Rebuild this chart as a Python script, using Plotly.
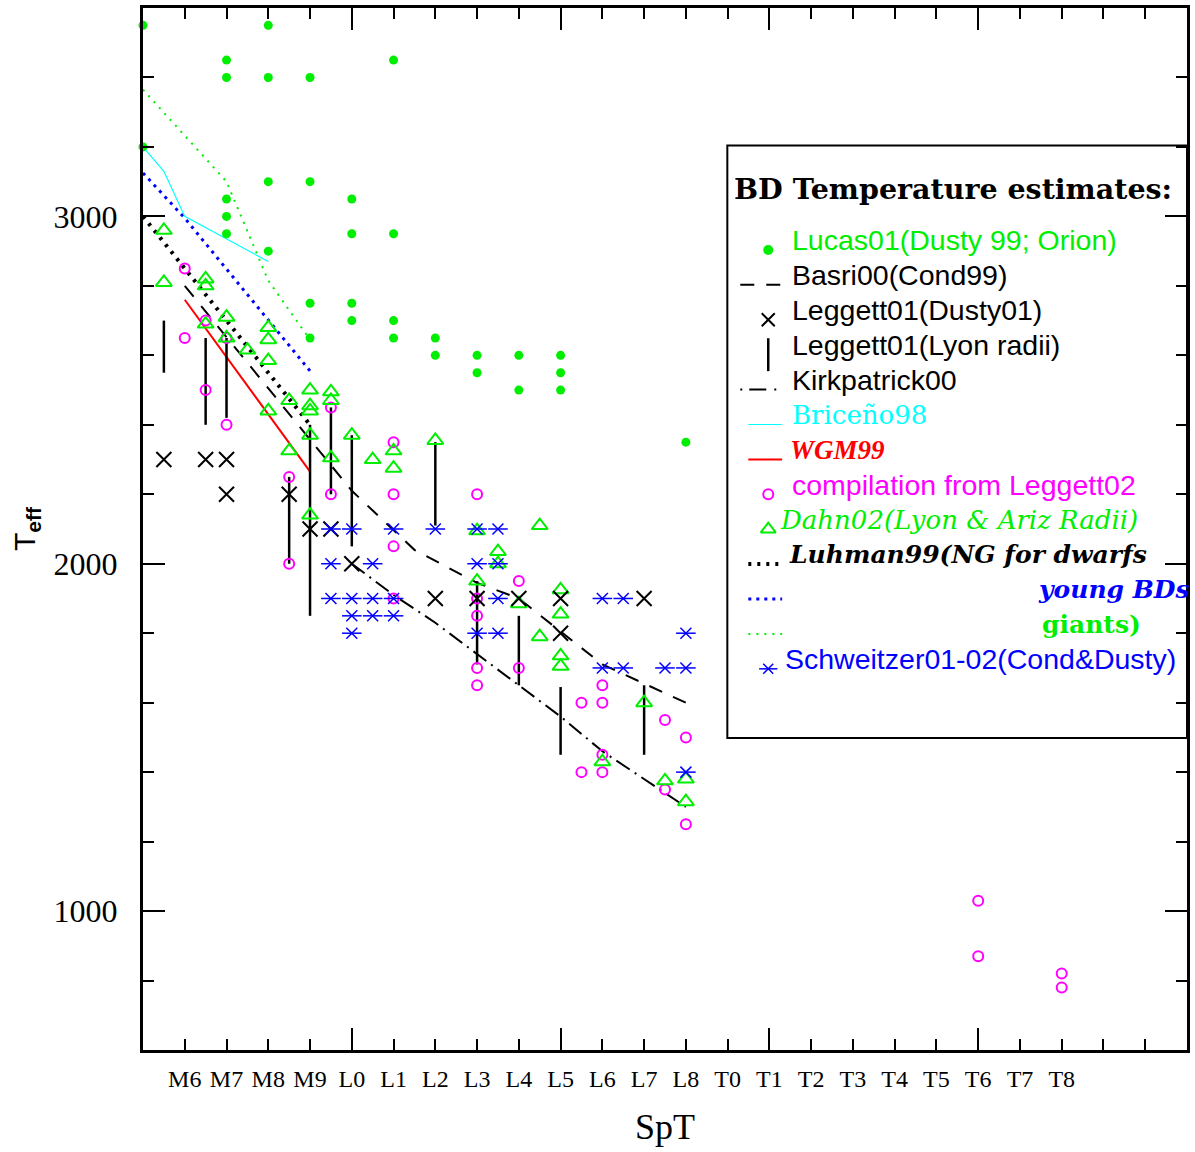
import plotly.graph_objects as go

# ---------------------------------------------------------------------------
# Axis labels
# ---------------------------------------------------------------------------
spt_ticks = ["M6", "M7", "M8", "M9", "L0", "L1", "L2", "L3", "L4", "L5", "L6",
             "L7", "L8", "T0", "T1", "T2", "T3", "T4", "T5", "T6", "T7", "T8"]
teff_major = [1000, 2000, 3000]

# ---------------------------------------------------------------------------
# Temperature estimates (spectral type, Teff in K)
# ---------------------------------------------------------------------------
lucas_spt = ["M5", "M5", "M7", "M7", "M7", "M7", "M7", "M8", "M8", "M8", "M8",
             "M9", "M9", "M9", "M9", "L0", "L0", "L0", "L0", "L1", "L1", "L1",
             "L1", "L2", "L2", "L3", "L3", "L4", "L4", "L5", "L5", "L5", "L8"]
lucas_teff = [3550, 3200, 3450, 3400, 3050, 3000, 2950, 3550, 3400, 3100, 2900,
              3400, 3100, 2750, 2650, 3050, 2950, 2750, 2700, 3450, 2950, 2700,
              2650, 2650, 2600, 2600, 2550, 2600, 2500, 2600, 2550, 2500, 2350]

basri_spt = ["M6", "L0", "L1.5", "L3", "L4", "L6", "L8"]
basri_teff = [2800, 2210, 2040, 1945, 1900, 1710, 1600]

leg_dusty_spt = ["M5.5", "M6.5", "M7", "M7", "M8.5", "M9", "M9.5", "L0", "L2",
                 "L3", "L4", "L5", "L5", "L7"]
leg_dusty_teff = [2300, 2300, 2300, 2200, 2200, 2100, 2100, 2000, 1900,
                  1900, 1900, 1900, 1800, 1900]

leg_lyon_spt = ["M5.5", "M6.5", "M7", "M8.5", "M9", "M9.5", "L0", "L2", "L3",
                "L4", "L5", "L7"]
leg_lyon_lo = [2550, 2400, 2420, 2000, 1850, 2200, 2050, 2110, 1710, 1650, 1450, 1450]
leg_lyon_hi = [2700, 2650, 2650, 2250, 2400, 2450, 2370, 2350, 1950, 1850, 1645, 1650]

kirk_spt = ["L0", "L1", "L2", "L3", "L4", "L5", "L6", "L7", "L8"]
kirk_teff = [2000, 1910, 1830, 1740, 1650, 1560, 1460, 1380, 1300]

briceno_spt = ["M5", "M5.5", "M6", "M8"]
briceno_teff = [3200, 3130, 3000, 2870]

wgm_spt = ["M6", "M9"]
wgm_teff = [2760, 2265]

comp_spt = ["M6", "M6", "M6.5", "M6.5", "M7", "M7", "M8.5", "M8.5", "M9.5",
            "M9.5", "L1", "L1", "L1", "L1", "L3", "L3", "L3", "L3", "L3", "L4",
            "L4", "L5.5", "L5.5", "L6", "L6", "L6", "L6", "L7.5", "L7.5", "L8",
            "L8", "T6", "T6", "T8", "T8"]
comp_teff = [2850, 2650, 2700, 2500, 2650, 2400, 2250, 2000, 2450,
             2200, 2350, 2200, 2050, 1900, 2200, 1900, 1850, 1700, 1650, 1950,
             1700, 1600, 1400, 1650, 1600, 1450, 1400, 1550, 1350, 1500,
             1250, 1030, 870, 820, 780]

dahn_spt = ["M5.5", "M5.5", "M6.5", "M6.5", "M6.5", "M7", "M7", "M7.5", "M8",
            "M8", "M8", "M8", "M8.5", "M8.5", "M9", "M9", "M9", "M9", "M9",
            "M9.5", "M9.5", "M9.5", "L0", "L0.5", "L1", "L1", "L2", "L3", "L3",
            "L3.5", "L3.5", "L4", "L4.5", "L4.5", "L5", "L5", "L5", "L5", "L6",
            "L7", "L7.5", "L8", "L8"]
dahn_teff = [2960, 2810, 2820, 2800, 2690, 2710, 2650, 2615, 2680,
             2645, 2585, 2440, 2470, 2325, 2500, 2455, 2440, 2370, 2140,
             2495, 2470, 2305, 2370, 2300, 2325, 2275, 2355, 2095, 1950,
             2035, 2000, 1885, 2110, 1790, 1925, 1855, 1735, 1705, 1430,
             1600, 1375, 1380, 1315]

luhman_dwarf_spt = ["M5", "M9"]
luhman_dwarf_teff = [3000, 2400]
luhman_young_spt = ["M5", "M6", "M9"]
luhman_young_teff = [3125, 2995, 2555]
luhman_giant_spt = ["M5", "M7", "M8", "M9"]
luhman_giant_teff = [3365, 3100, 2815, 2645]

sch_spt = ["M9.5", "M9.5", "M9.5", "L0", "L0", "L0", "L0", "L0.5", "L0.5",
           "L0.5", "L1", "L1", "L1", "L2", "L3", "L3", "L3", "L3.5", "L3.5",
           "L3.5", "L3.5", "L6", "L6", "L6.5", "L6.5", "L7.5", "L8", "L8", "L8"]
sch_teff = [2100, 2000, 1900, 2100, 1900, 1850, 1800, 2000, 1900,
            1850, 2100, 1900, 1850, 2100, 2100, 2000, 1800, 2100, 2000,
            1900, 1800, 1900, 1700, 1900, 1700, 1700, 1800, 1700, 1400]


def spt_num(s):
    """Spectral type -> position on the SpT axis (M5 = 0, L0 = 5, T0 = 14)."""
    return float(s[1:]) + {"M": -5, "L": 5, "T": 14}[s[0]]


def xs(spts):
    return [spt_num(s) for s in spts]


GREEN = "#00ee00"
BLUE = "#0000ff"
MAGENTA = "#ff00ff"
CYAN = "#00ffff"
RED = "#ff0000"
BLACK = "#000000"

BASRI_DASH = "14px,12px"
KIRK_DASH = "16px,6px,2px,6px"
DOT_BLACK = "3px,6px"
DOT_BLUE = "3px,5px"
DOT_GREEN = "2px,6px"

fig = go.Figure()


def curve(spts, teff, color, width, dash="solid"):
    fig.add_trace(go.Scatter(x=xs(spts), y=teff, mode="lines",
                             line=dict(color=color, width=width, dash=dash),
                             hoverinfo="skip"))


def points(spts, teff, symbol, size, color, lw=2.0, clip=True, filled=False):
    fig.add_trace(go.Scatter(
        x=xs(spts), y=teff, mode="markers", cliponaxis=clip, hoverinfo="skip",
        marker=dict(symbol=symbol, size=size, color=color,
                    line=dict(color=color, width=0 if filled else lw))))


# model / calibration curves
curve(luhman_giant_spt, luhman_giant_teff, GREEN, 2, DOT_GREEN)
curve(luhman_young_spt, luhman_young_teff, BLUE, 3, DOT_BLUE)
curve(luhman_dwarf_spt, luhman_dwarf_teff, BLACK, 4, DOT_BLACK)
curve(briceno_spt, briceno_teff, CYAN, 1.2)
curve(wgm_spt, wgm_teff, RED, 2)
curve(basri_spt, basri_teff, BLACK, 2, BASRI_DASH)
curve(kirk_spt, kirk_teff, BLACK, 2, KIRK_DASH)

# Leggett01 (Lyon radii) temperature ranges as vertical bars
bar_x, bar_y = [], []
for s, lo, hi in zip(leg_lyon_spt, leg_lyon_lo, leg_lyon_hi):
    v = spt_num(s)
    bar_x += [v, v, None]
    bar_y += [lo, hi, None]
fig.add_trace(go.Scatter(x=bar_x, y=bar_y, mode="lines",
                         line=dict(color=BLACK, width=2.5), hoverinfo="skip"))

# individual estimates
points(lucas_spt, lucas_teff, "circle", 9, GREEN, clip=False, filled=True)
points(comp_spt, comp_teff, "circle-open", 10, MAGENTA, 2)
points(dahn_spt, dahn_teff, "triangle-up-open", 14, GREEN, 2)
points(leg_dusty_spt, leg_dusty_teff, "x-thin-open", 15, BLACK, 2)
points(sch_spt, sch_teff, "line-ew-open", 14, BLUE, 1.5)
points(sch_spt, sch_teff, "x-thin-open", 11, BLUE, 1.5)

# invisible trace that carries the labelled SpT axis
fig.add_trace(go.Scatter(x=[None], y=[None], xaxis="x2", yaxis="y",
                         showlegend=False, hoverinfo="skip"))

# ---------------------------------------------------------------------------
# Hand-built legend panel (paper coordinates)
# ---------------------------------------------------------------------------
LEG_X0, LEG_X1, LEG_Y0, LEG_Y1 = 0.5597, 1.0, 0.2995, 0.868
ROW0, ROW_STEP = 0.777, 0.0335
SAMPLE_DY = 0.0092
MARK_X = 0.5989
TEXT_X = 0.6199


def row(i):
    return ROW0 - ROW_STEP * i


shapes = [dict(type="rect", xref="paper", yref="paper", x0=LEG_X0, x1=LEG_X1,
               y0=LEG_Y0, y1=LEG_Y1, line=dict(color=BLACK, width=2))]


def sample_line(i, x0, x1, color, width, dash="solid"):
    y = row(i) - SAMPLE_DY
    shapes.append(dict(type="line", xref="paper", yref="paper", x0=x0, x1=x1,
                       y0=y, y1=y, line=dict(color=color, width=width, dash=dash)))


sample_line(1, 0.5721, 0.6122, BLACK, 2, BASRI_DASH)
sample_line(4, 0.5721, 0.6074, BLACK, 2, "2px,7px,17px,8px,2px,20px")
sample_line(5, 0.5798, 0.6122, CYAN, 1.2)
sample_line(6, 0.5798, 0.6122, RED, 2)
sample_line(9, 0.5798, 0.6122, BLACK, 4, DOT_BLACK)
sample_line(10, 0.5798, 0.6122, BLUE, 3, DOT_BLUE)
sample_line(11, 0.5798, 0.6122, GREEN, 2, DOT_GREEN)
yb = row(3) - SAMPLE_DY
shapes.append(dict(type="line", xref="paper", yref="paper", x0=MARK_X, x1=MARK_X,
                   y0=yb - 0.0158, y1=yb + 0.0158, line=dict(color=BLACK, width=2.5)))


def legend_marker(i, symbol, size, color, lw=2.0, filled=False):
    fig.add_trace(go.Scatter(
        x=[MARK_X], y=[row(i) - SAMPLE_DY], xaxis="x3", yaxis="y3",
        mode="markers", cliponaxis=False, hoverinfo="skip",
        marker=dict(symbol=symbol, size=size, color=color,
                    line=dict(color=color, width=0 if filled else lw))))


legend_marker(0, "circle", 10, GREEN, filled=True)
legend_marker(2, "x-thin-open", 13, BLACK, 2)
legend_marker(7, "circle-open", 10, MAGENTA, 2)
legend_marker(8, "triangle-up-open", 13, GREEN, 2)
legend_marker(12, "line-ew-open", 13, BLUE, 1.5)
legend_marker(12, "x-thin-open", 10, BLUE, 1.5)

SANS = "Liberation Sans"
SERIF = "DejaVu Serif"

annotations = [dict(text="BD Temperature estimates:", x=0.5645, y=0.8262,
                    font=dict(family=SERIF, size=28.5, color=BLACK, weight="bold"))]

legend_texts = [
    (0, "Lucas01(Dusty 99; Orion)", TEXT_X, SANS, 28.5, GREEN, "normal", "normal"),
    (1, "Basri00(Cond99)", TEXT_X, SANS, 28.5, BLACK, "normal", "normal"),
    (2, "Leggett01(Dusty01)", TEXT_X, SANS, 28.5, BLACK, "normal", "normal"),
    (3, "Leggett01(Lyon radii)", TEXT_X, SANS, 28.5, BLACK, "normal", "normal"),
    (4, "Kirkpatrick00", TEXT_X, SANS, 28.5, BLACK, "normal", "normal"),
    (5, "Briceño98", TEXT_X, SERIF, 26, CYAN, "normal", "normal"),
    (6, "WGM99", 0.6180, "Liberation Serif", 27, RED, "bold", "italic"),
    (7, "compilation from Leggett02", TEXT_X, SANS, 28.5, MAGENTA, "normal", "normal"),
    (8, "Dahn02(Lyon &amp; Ariz Radii)", 0.6084, SERIF, 26, GREEN, "normal", "italic"),
    (9, "Luhman99(NG for dwarfs", 0.6170, SERIF, 25, BLACK, "bold", "italic"),
    (10, "young BDs", 0.8558, SERIF, 25, BLUE, "bold", "italic"),
    (11, "giants)", 0.8596, SERIF, 25, GREEN, "bold", "normal"),
    (12, "Schweitzer01-02(Cond&amp;Dusty)", 0.6132, SANS, 28.5, BLUE, "normal", "normal"),
]
for i, txt, x, fam, size, color, weight, style in legend_texts:
    annotations.append(dict(text=txt, x=x, y=row(i),
                            font=dict(family=fam, size=size, color=color,
                                      weight=weight, style=style)))

for a in annotations:
    a.update(xref="paper", yref="paper", xanchor="left", yanchor="middle",
             showarrow=False)

# ---------------------------------------------------------------------------
# Axes and layout
# ---------------------------------------------------------------------------
axis_common = dict(showgrid=False, zeroline=False, showline=True, linecolor=BLACK,
                   linewidth=3, mirror="ticks", ticks="inside", tickcolor=BLACK,
                   tickwidth=2, ticklen=22)

fig.update_layout(
    width=1195, height=1152,
    margin=dict(l=143, r=5, t=5, b=102),
    plot_bgcolor="white", paper_bgcolor="white",
    showlegend=False,
    xaxis=dict(range=[0, 25], tickmode="array", tickvals=[0, 5, 10, 15, 20, 25],
               showticklabels=False,
               minor=dict(tickmode="array", tickvals=list(range(1, 25)),
                          ticks="inside", ticklen=11, tickwidth=2,
                          tickcolor=BLACK, showgrid=False),
               **axis_common),
    xaxis2=dict(overlaying="x", anchor="y", side="bottom", range=[0, 25],
                tickmode="array", tickvals=list(range(1, len(spt_ticks) + 1)),
                ticktext=spt_ticks, ticks="", showline=False, showgrid=False,
                zeroline=False, ticklabelstandoff=12,
                tickfont=dict(family="Liberation Serif", size=24, color=BLACK),
                title=dict(text="SpT", standoff=22,
                           font=dict(family="Liberation Serif", size=36, color=BLACK))),
    yaxis=dict(range=[600, 3600], tickmode="array", tickvals=teff_major,
               ticktext=[str(v) for v in teff_major], ticklabelstandoff=16,
               tickfont=dict(family="Liberation Serif", size=32, color=BLACK),
               minor=dict(dtick=200, tick0=0, ticks="inside", ticklen=11,
                          tickwidth=2, tickcolor=BLACK, showgrid=False),
               title=dict(text="T<sub><b>eff</b></sub>", standoff=10,
                          font=dict(family="Liberation Sans", size=30, color=BLACK)),
               **axis_common),
    xaxis3=dict(overlaying="x", anchor="y3", range=[0, 1], visible=False),
    yaxis3=dict(overlaying="y", anchor="x3", range=[0, 1], visible=False),
    shapes=shapes,
    annotations=annotations,
)

fig.write_html("out.html")
